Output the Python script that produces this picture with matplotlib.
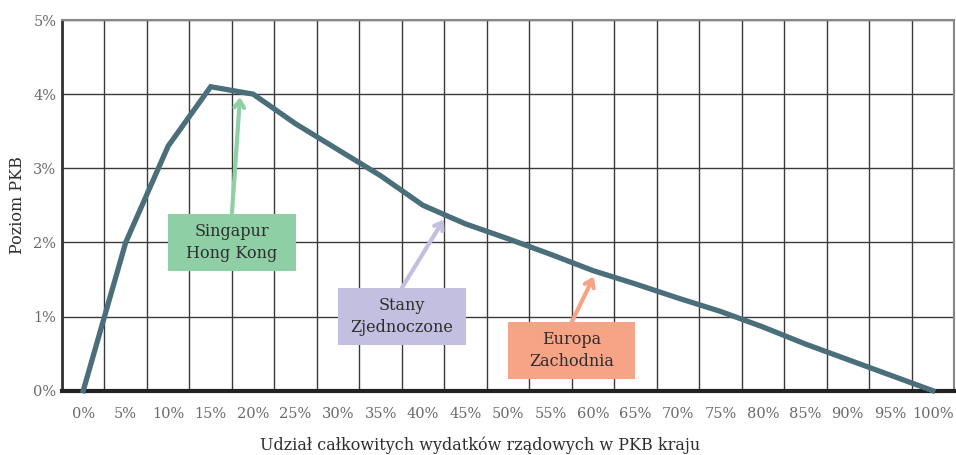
import matplotlib
matplotlib.use("Agg")
import matplotlib.pyplot as plt
from matplotlib.patches import Rectangle

# udział wydatków rządowych w PKB (%) i poziom PKB (%)
spending = [0, 5, 10, 15, 20, 25, 30, 35, 40, 45, 50,
            55, 60, 65, 70, 75, 80, 85, 90, 95, 100]
gdp_level = [0, 2.0, 3.3, 4.1, 4.0, 3.6, 3.25, 2.9, 2.5, 2.25, 2.05,
             1.84, 1.62, 1.44, 1.25, 1.07, 0.86, 0.63, 0.42, 0.21, 0]
y_ticks = [0, 1, 2, 3, 4, 5]

# adnotacje: tekst, kolor, środek pola (indeks, wartość), grot strzałki
notes = ["Singapur\nHong Kong", "Stany\nZjednoczone", "Europa\nZachodnia"]
note_colors = ["#8fcfa6", "#c2bfe0", "#f6a485"]
note_box = [(3.5, 2.0), (7.5, 1.0), (11.5, 0.54)]
note_tip = [(3.69, 3.96), (8.49, 2.31), (12.02, 1.54)]

plt.rcParams["font.family"] = ["DejaVu Serif"]

fig = plt.figure(figsize=(9.56, 4.55), dpi=100)
ax = fig.add_axes([62 / 956, 64.3 / 455, 892 / 956, 370.7 / 455])

idx = list(range(len(spending)))
ax.set_xlim(-0.5, len(spending) - 0.5)
ax.set_ylim(0, 5)

# siatka na granicach przedziałów
for k in range(len(spending) + 1):
    ax.axvline(k - 0.5, color="#3a3a3a", lw=1.0, zorder=1)
for v in y_ticks:
    ax.axhline(v, color="#3a3a3a", lw=1.0, zorder=1)

ax.plot(idx, gdp_level, color="#4b6e7b", lw=3.8, solid_joinstyle="miter",
        zorder=3, clip_on=False)

box_w, box_h = 3.0, 0.77
for text, col, (bx, by), (tx, ty) in zip(notes, note_colors, note_box, note_tip):
    ax.add_patch(Rectangle((bx - box_w / 2, by - box_h / 2), box_w, box_h,
                           facecolor=col, edgecolor="none", zorder=4))
    ax.text(bx, by, text, ha="center", va="center", fontsize=11.5,
            color="#2e2e2e", linespacing=1.35, zorder=5)
    ax.annotate("", xy=(tx, ty), xytext=(bx, by + box_h / 2),
                arrowprops=dict(arrowstyle="->,head_length=0.5,head_width=0.35",
                                color=col, lw=3, shrinkA=0, shrinkB=0),
                zorder=4)

ax.set_xticks(idx)
ax.set_xticklabels([f"{s}%" for s in spending])
ax.set_yticks(y_ticks)
ax.set_yticklabels([f"{v}%" for v in y_ticks])
ax.tick_params(axis="both", length=0, labelsize=10.5, labelcolor="#6a6a6a")
ax.tick_params(axis="x", pad=12)
ax.tick_params(axis="y", pad=4)

for side in ["top", "right"]:
    ax.spines[side].set_color("#888888")
    ax.spines[side].set_linewidth(1.5)
ax.spines["left"].set_color("#333333")
ax.spines["left"].set_linewidth(2)
ax.spines["bottom"].set_color("#222222")
ax.spines["bottom"].set_linewidth(3)

fig.text(480 / 956, 1 - 445 / 455, "Udział całkowitych wydatków rządowych w PKB kraju",
         ha="center", va="center", fontsize=11.5, color="#2e2e2e")
fig.text(18 / 956, 1 - 205 / 455, "Poziom PKB", rotation=90,
         ha="center", va="center", fontsize=11.5, color="#2e2e2e")

fig.savefig("out.png", dpi=100)
